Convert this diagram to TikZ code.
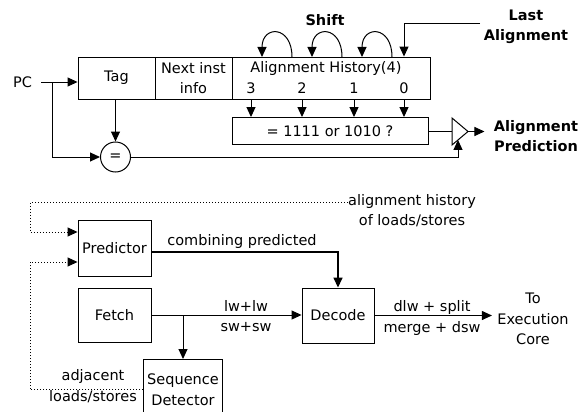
\documentclass[tikz,border=0pt]{standalone}
\usepackage{fontspec}
\setmainfont{DejaVu Sans}
\usetikzlibrary{arrows.meta,calc}

\begin{document}
\begin{tikzpicture}[x=1pt,y=-1pt,>={Triangle[length=10pt,width=9pt]},line width=1pt,
  every node/.style={font=\fontsize{14.5}{20.5}\selectfont,align=center,inner sep=0pt},
  cell/.style={draw,line width=0.9pt},hd/.style={font=\fontsize{14.5}{20.5}\selectfont\bfseries}]
\useasboundingbox (0,0) rectangle (578,412);
% entry of the alignment table
\node[cell,minimum width=77,minimum height=42] (tag) at (116.5,78) {Tag};
\node[cell,minimum width=77,minimum height=42] (info) at (193.5,78) {Next inst\\info};
\node[cell,minimum width=198,minimum height=42] (hist) at (331,78) {};
\node (histlbl) at (326,68) {Alignment History(4)};
\foreach \b/\x in {3/251,2/302,1/354,0/404} \node (d\b) at (\x,88) {\b};
\node[cell,minimum width=196,minimum height=27] (cmp) at (330,131) {= 1111 or 1010 ?};
\foreach \b in {3,2,1,0} \draw[->] (d\b |- hist.south) -- (d\b |- cmp.north);
\node[draw,circle,minimum size=30] (eq) at (115.5,157) {=};
\node (pc) at (22.5,82) {PC};
\draw[->] ($(pc.east)+(9,0)$) -- (pc.east -| tag.west);\draw[->] ($(pc.east)+(20,0)$) |- (eq.west);
\draw[->] (eq.north |- tag.south) -- (eq.north);
% shifting the history in
\node[hd] (shift) at (325,20) {Shift};
\foreach \a/\b in {292/262,342/312,392/362} \draw[->] (\a,57) .. controls (\a,25) and (\b,25) .. (\b,57);
\node[hd] (last) at (526,27) {Last\\Alignment};
\coordinate (lastin) at (480,24);\draw[->] (lastin) -| (d0 |- hist.north);
% AND gate
\draw (452,118) coordinate (g1) -- (468,131.5) coordinate (gout) -- (452,145) coordinate (g2) -- cycle;
\draw (cmp.east) -- (cmp.east -| g1);\coordinate (gb) at ($(g2)!.375!(gout)$);\draw[->] (eq.east) -| (gb);
\node[hd,inner xsep=9pt] (apred) at (536,136) {Alignment\\Prediction};\draw[->] (gout) -- (gout -| apred.west);
% pipeline
\node[cell,minimum width=73,minimum height=56] (pred) at (114.5,248) {Predictor};
\node[cell,minimum width=73,minimum height=54] (fetch) at (114.5,315) {Fetch};
\node[cell,minimum width=72,minimum height=55] (dec) at (338,315.5) {Decode};
\node[cell,minimum width=79,minimum height=61,anchor=north] (seq) at (183,359) {Sequence\\Detector};
\node (ahist) at (412,210.5) {alignment history\\of loads/stores};
\draw[dotted,->] ($(ahist.west)+(0,-8)$) -| (30,232) -- ($(pred.west)+(0,-16)$);
\node (adj) at (93,386) {adjacent\\loads/stores};
\draw[dotted,->] (seq.west) -| (30,262) -- ($(pred.west)+(0,14)$);
\draw[->,line width=1.5pt] ($(pred.east)+(0,4)$) -| (dec.north);\node (comb) at (242,241) {combining predicted};
\draw[->] (fetch.east) -- (fetch.east -| dec.west);\draw[->] (fetch.east -| seq.north) -- (seq.north);
\node (lw) at (246,306) {lw+lw};\node (sw) at (246,327) {sw+sw};
\node[inner xsep=5pt] (core) at (533,319) {To\\Execution\\Core};
\draw[->] (dec.east) -- (dec.east -| core.west);
\node (dlw) at (432,307) {dlw + split};\node (mrg) at (432,328) {merge + dsw};
\end{tikzpicture}
\end{document}
